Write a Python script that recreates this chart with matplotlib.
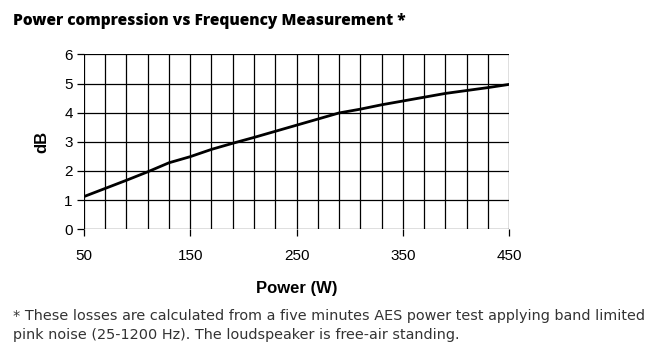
import numpy as np
import matplotlib.pyplot as plt

# Power (W) vs compression (dB)
power = [50, 70, 90, 110, 130, 150, 170, 190, 210, 230, 250,
         270, 290, 310, 330, 350, 370, 390, 410, 430, 450]
db = [1.12, 1.40, 1.68, 1.97, 2.28, 2.49, 2.74, 2.95, 3.15, 3.36, 3.57,
      3.78, 3.99, 4.12, 4.27, 4.40, 4.53, 4.66, 4.76, 4.86, 4.97]

xticks = [50, 150, 250, 350, 450]
yticks = [0, 1, 2, 3, 4, 5, 6]
xgrid = np.arange(50, 451, 20)

fig = plt.figure(figsize=(6.56, 3.51), dpi=100)
ax = fig.add_axes([0.128, 0.347, 0.648, 0.498])

for g in xgrid:
    ax.axvline(g, color='black', lw=0.9, zorder=1)
for g in yticks:
    ax.axhline(g, color='black', lw=0.9, zorder=1)

ax.plot(power, db, color='black', lw=2.0, zorder=3)

ax.set_xlim(50, 450)
ax.set_ylim(0, 6)
for s in ax.spines.values():
    s.set_visible(False)
ax.set_xticks(xticks)
ax.set_yticks(yticks)
ax.tick_params(axis='both', length=5, width=0.9, color='black',
               labelsize=11, pad=3)
for lab in ax.get_xticklabels() + ax.get_yticklabels():
    lab.set_fontfamily('Liberation Sans')
ax.tick_params(axis='x', pad=9)

ax.set_xlabel("Power (W)", fontfamily='Liberation Sans', fontweight='bold',
              fontsize=12, labelpad=13)
ax.set_ylabel("dB", fontfamily='Liberation Sans', fontweight='bold',
              fontsize=12, labelpad=11)

fig.text(0.02, 0.94, "Power compression vs Frequency Measurement *",
         fontfamily='Open Sans', fontweight='heavy', fontsize=11.2,
         color='black', va='center', ha='left')
fig.text(0.02, 0.1, "* These losses are calculated from a five minutes AES power test applying band limited",
         fontfamily='DejaVu Sans', fontsize=10.4, color='#333333', va='center', ha='left')
fig.text(0.02, 0.045, "pink noise (25-1200 Hz). The loudspeaker is free-air standing.",
         fontfamily='DejaVu Sans', fontsize=10.4, color='#333333', va='center', ha='left')

fig.savefig("out.png", dpi=100)
